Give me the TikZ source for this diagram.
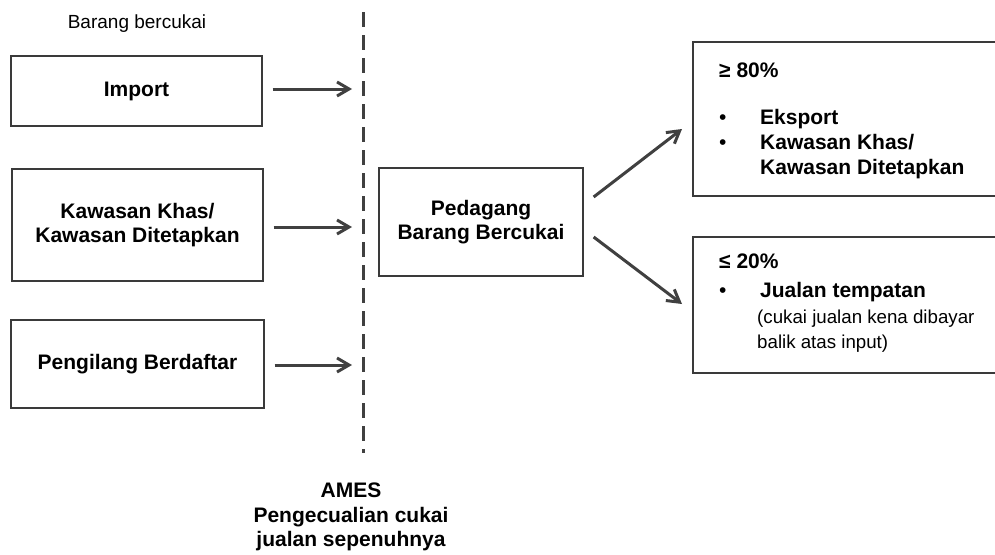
\documentclass[tikz,border=0pt]{standalone}
\usepackage{fontspec}
\setmainfont{Liberation Sans}
\usetikzlibrary{arrows.meta}
\definecolor{linegray}{HTML}{404040}
\definecolor{boxgray}{HTML}{3A3A3A}
\begin{document}
\begin{tikzpicture}[x=1pt,y=-1pt,
  boldtxt/.style={font=\fontsize{21}{24.5}\selectfont\bfseries},
  smalltxt/.style={font=\fontsize{18.7}{25}\selectfont},
  box/.style={draw=boxgray, line width=1.3pt, inner sep=0pt, align=center, boldtxt},
  flow/.style={draw=linegray, line width=3pt, -{Straight Barb[length=12pt,width=14pt]}},
  divider/.style={draw=linegray, line width=3pt, dash pattern=on 15pt off 8pt},
  lbl/.style={inner sep=0pt, anchor=base west}]
\useasboundingbox (0,0) rectangle (995,554);
\fill[white] (0,0) rectangle (995,554);

% title
\node[font=\fontsize{19}{22}\selectfont, inner sep=0pt, anchor=base] (title) at (137,28) {Barang bercukai};

% left boxes
\node[box, minimum width=251pt, minimum height=70pt] (imp) at (136.5,91) {Import};
\node[box, minimum width=251pt, minimum height=112pt] (kk) at (137.5,225) {Kawasan Khas/\\Kawasan Ditetapkan};
\node[box, minimum width=253pt, minimum height=88pt] (pb) at (137.5,364) {Pengilang Berdaftar};

% centre box
\node[box, minimum width=204pt, minimum height=108pt] (pbc) at (481,222) {Pedagang\\Barang Bercukai};

% right boxes (cut by the right edge)
\node[box, minimum width=310pt, minimum height=154pt] (eks) at (848,119) {};
\node[box, minimum width=310pt, minimum height=136pt] (loc) at (848,305) {};

% dashed divider
\coordinate (dtop) at (363,12);
\coordinate (dbot) at (363,453);
\draw[divider] (dtop) -- (dbot);

% arrows to divider
\coordinate (a1) at (352,89);
\coordinate (a2) at (352,227);
\coordinate (a3) at (352,365);
\draw[flow, shorten <=10pt] (imp.east |- a1) -- (a1);
\draw[flow, shorten <=10pt] (kk.east |- a2) -- (a2);
\draw[flow, shorten <=10pt] (pb.east |- a3) -- (a3);

% diagonal arrows
\coordinate (b1) at (682,129);
\coordinate (b2) at (682,304);
\draw[flow] (pbc.east) ++(10,-25) -- (b1);
\draw[flow] (pbc.east) ++(10,15) -- (b2);

% text in top right box
\node[lbl, boldtxt] (p80) at (719,77) {≥ 80\%};
\node[lbl, font=\fontsize{21}{24}\selectfont] (bu1) at (719,124) {•};
\node[lbl, boldtxt] (t1) at (760,124) {Eksport};
\node[lbl, font=\fontsize{21}{24}\selectfont] (bu2) at (719,149) {•};
\node[lbl, boldtxt] (t2) at (760,149) {Kawasan Khas/};
\node[lbl, boldtxt] (t3) at (760,174) {Kawasan Ditetapkan};

% text in bottom right box
\node[lbl, boldtxt] (p20) at (719,268) {≤ 20\%};
\node[lbl, font=\fontsize{21}{24}\selectfont] (bu3) at (719,297) {•};
\node[lbl, boldtxt] (t4) at (760,297) {Jualan tempatan};
\node[lbl, smalltxt] (t5) at (757,323) {(cukai jualan kena dibayar};
\node[lbl, smalltxt] (t6) at (757,348) {balik atas input)};

% bottom caption
\node[boldtxt, align=center, inner sep=0pt, anchor=north] (ames) at (351,483) {AMES\\Pengecualian cukai\\jualan sepenuhnya};
\end{tikzpicture}
\end{document}
